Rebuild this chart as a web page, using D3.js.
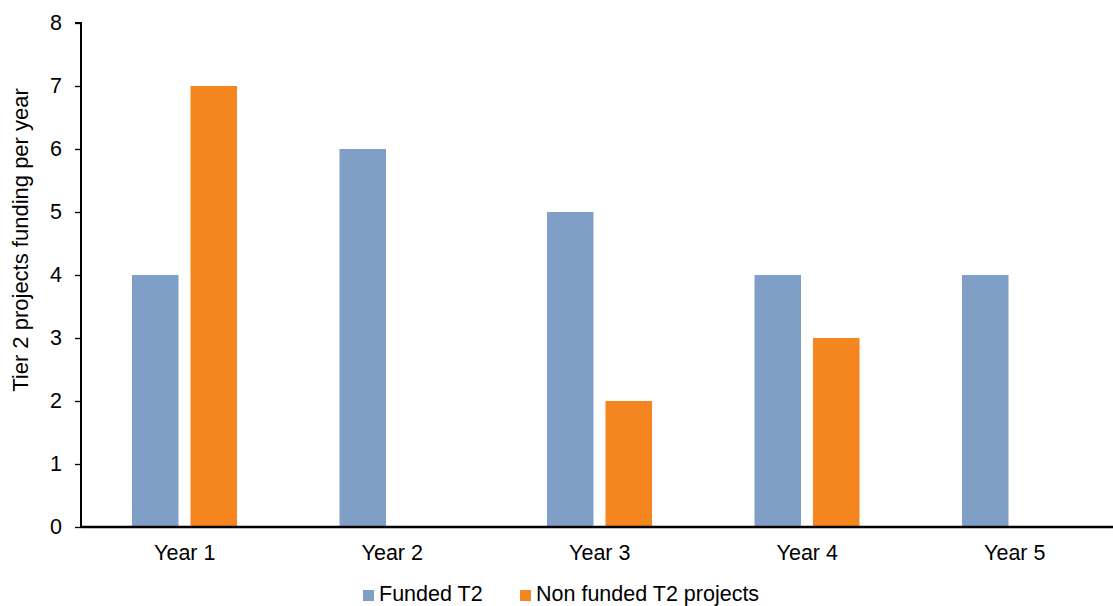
<!DOCTYPE html>
<html><head><meta charset="utf-8">
<script src="https://cdn.jsdelivr.net/npm/d3@7"></script>
<style>body{margin:0;background:#fff;} text{font-family:"Liberation Sans",Arial,sans-serif;fill:#000;}</style>
</head><body>
<svg id="c" width="1113" height="606"></svg>
<script>
const categories = ["Year 1","Year 2","Year 3","Year 4","Year 5"];
const seriesNames = ["Funded T2","Non funded T2 projects"];
const funded = [4,6,5,4,4];
const nonFunded = [7,0,2,3,0];
const yTicks = [0,1,2,3,4,5,6,7,8];
const colors = ["#809FC6","#F5861F"];

const svg = d3.select("#c");
const m = {left:81, top:23};
const W = 1113;
const FS = "21.5px";
const x = d3.scaleBand().domain(categories).range([m.left, m.left + 5*207.5]).paddingInner(0).paddingOuter(0);
const y = d3.scaleLinear().domain([0,8]).range([527, 23]);
const bw = x.bandwidth();
const x1 = d3.scaleBand().domain(seriesNames).range([51, 51+105]).paddingInner(0.205).paddingOuter(0);

const data = categories.map((c,i)=>({c, vals:[funded[i], nonFunded[i]]}));
const g = svg.append("g");
data.forEach(d=>{
  d.vals.forEach((v,j)=>{
    if(v<=0) return;
    g.append("rect")
      .attr("x", x(d.c)+x1(seriesNames[j]))
      .attr("width", x1.bandwidth())
      .attr("y", y(v))
      .attr("height", y(0)-y(v))
      .attr("fill", colors[j]);
  });
});

// y axis
const ya = svg.append("g").attr("transform",`translate(${m.left},0)`)
  .call(d3.axisLeft(y).tickValues(yTicks).tickSize(6).tickPadding(13).tickFormat(d3.format("d")));
ya.select(".domain").attr("stroke","#000").attr("stroke-width",2).attr("d",`M-6,${y(8)}H0V${y(0)}`);
ya.selectAll(".tick line").attr("stroke","#000").attr("stroke-width",1.3);
ya.selectAll("text").style("font-size",FS).attr("fill","#000");

// x axis
const xa = svg.append("g").attr("transform",`translate(0,${y(0)})`)
  .call(d3.axisBottom(x).tickSize(0).tickPadding(18));
xa.select(".domain").attr("stroke","#000").attr("stroke-width",2.5).attr("d",`M${m.left},0H${W}`);
xa.selectAll("text").style("font-size",FS).attr("fill","#000");

// y title
svg.append("text").attr("transform",`translate(28,240) rotate(-90)`)
  .attr("text-anchor","middle").style("font-size","22px").text("Tier 2 projects funding per year");

// legend
const legX = [363, 520];
seriesNames.forEach((s,j)=>{
  svg.append("rect").attr("x",legX[j]).attr("y",590).attr("width",11).attr("height",11).attr("fill",colors[j]);
  svg.append("text").attr("x",legX[j]+16).attr("y",601).style("font-size","21.5px").text(s);
});
</script>
</body></html>
